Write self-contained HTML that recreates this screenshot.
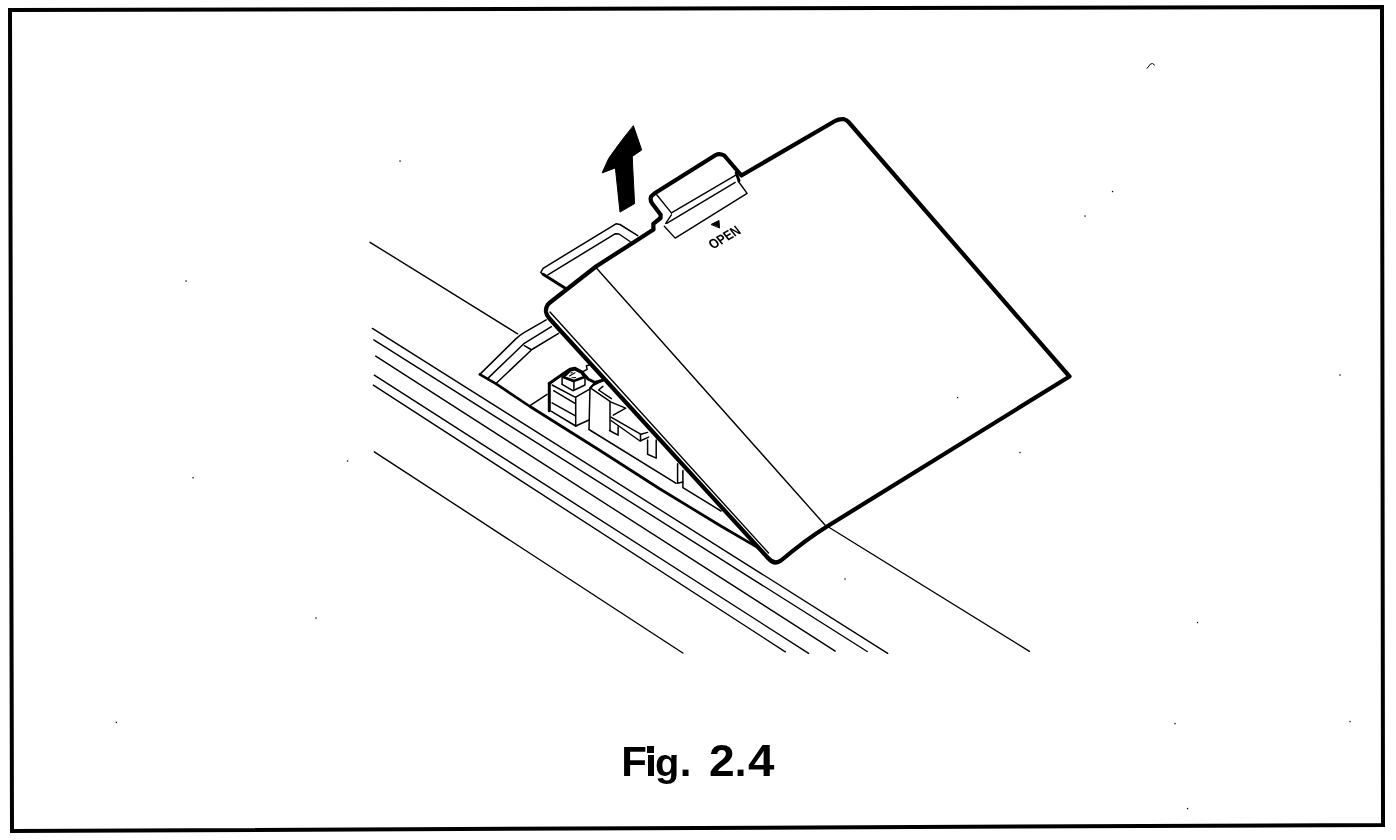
<!DOCTYPE html>
<html>
<head>
<meta charset="utf-8">
<style>
html,body{margin:0;padding:0;background:#fff;}
body{width:1396px;height:840px;overflow:hidden;position:relative;}
svg{position:absolute;left:0;top:0;}
.fig{position:absolute;left:0;top:0;filter:grayscale(1);font-family:"Liberation Sans",sans-serif;font-weight:bold;font-size:42px;line-height:42px;color:#000;white-space:pre;}
</style>
</head>
<body>
<svg width="1396" height="840" viewBox="0 0 1396 840" fill="none" stroke="#000" stroke-linejoin="round" stroke-linecap="round">
<!-- frame -->
<polygon points="10,10 1382,7 1383,825 12,831" stroke-width="4" stroke-linejoin="miter"/>

<!-- long body lines -->
<g stroke-width="1.4">
<line x1="370" y1="242.3" x2="517.6" y2="333.8"/>
<line x1="826" y1="525.5" x2="1029.4" y2="651.3"/>
<line x1="372.4" y1="328.4" x2="887.7" y2="653.3"/>
<line x1="373.8" y1="339.8" x2="867.2" y2="651.5"/>
<line x1="375.7" y1="356.2" x2="835.2" y2="651.1"/>
<line x1="374.3" y1="375.2" x2="808.6" y2="653.3"/>
<line x1="373.3" y1="385.2" x2="785.3" y2="651.8"/>
<line x1="374.3" y1="451.8" x2="682.8" y2="653"/>
</g>

<!-- recess -->
<g stroke-width="1.5">
<path d="M546.2,319.9 L524,332.6 Q520,335 515.8,338.9 L479.8,374.4"/>
<polyline points="551.4,326.7 524.3,343.3 487.6,378.6"/>
<polyline points="558.6,333.3 531.9,349.5 496.2,383.3"/>
<line x1="524.3" y1="345.7" x2="531" y2="349.5"/>
<polyline points="637.7,235.6 620,224.5 616,223.8 543.1,268.3 540.7,272.5 543.1,274.3"/>
<polyline points="630,241.5 619,234 615,233.8 547.9,274.9"/>
<line x1="530" y1="405.7" x2="547.1" y2="394.3"/>
</g>
<polyline stroke-width="3" points="543.1,274.3 565.7,288.6"/>
<polyline stroke-width="2.7" points="479.8,374.4 496.2,383.9 530,406.5 600,450.5 660,489 720,525.5 751.4,543.8 772,556"/>

<!-- mechanism inside recess -->
<g stroke-width="1.5">
<!-- switch box -->
<line x1="552.1" y1="385" x2="575" y2="397.1"/>
<line x1="553.6" y1="390.7" x2="575" y2="403.3"/>
<line x1="552.1" y1="402.9" x2="575" y2="415.7"/>
<line x1="551.4" y1="411.4" x2="575.7" y2="426"/>
<line x1="575.7" y1="397.1" x2="575.7" y2="426"/>
<polyline points="575.7,397.1 589.3,389.3 591.4,386.4"/>
<line x1="575.7" y1="426" x2="589" y2="420"/>
<!-- cap -->
<line x1="562.1" y1="377.1" x2="562.1" y2="384.3"/>
<polyline points="562.1,384.3 572.9,390.7 585,385 585,377.1"/>
<polyline points="562.9,377.1 573.6,381.4 584.3,376.4"/>
<line x1="573.9" y1="381.4" x2="573.9" y2="390"/>
<polyline points="589.3,365 586.4,365.7 587.1,369.3 582.1,372.1"/>
<!-- panel -->
<line x1="590" y1="387.9" x2="589" y2="429.5"/>
<line x1="591.4" y1="386.4" x2="602.9" y2="380.7"/>
<line x1="591.4" y1="388.6" x2="610" y2="401.4"/>
<polyline points="602.9,386.4 598.6,390 611.4,398.6"/>
<line x1="610" y1="402" x2="610" y2="430.5"/>
<polyline points="610.5,401.9 625.7,408.1 613.3,415.2"/>
<polyline points="609.5,430.5 618.1,435.2 618.1,426.7"/>
<polyline points="611,417.1 641,434.3 647.6,432.4"/>
<polyline points="611,420.5 640,441 648.6,437.1"/>
<line x1="640.5" y1="434.3" x2="640.5" y2="441"/>
<polyline points="647.6,440 647.6,454.3 656.2,458.1 656.2,440"/>
<polyline points="589,429.5 676.2,483.3"/>
<polyline points="677.6,463.8 677.6,483.3 682.9,482 "/>
<polyline points="682.9,470.5 682.9,487.6 721,511"/>
</g>
<g stroke-width="3">
<line x1="549.3" y1="383.6" x2="549.3" y2="410.7"/>
<polyline points="549.3,383.6 563.6,373.6 570,369.3 575,368.2 582.1,372.1 588,379 595,382.5 602.5,380.3"/>
<line x1="595" y1="382.5" x2="590.5" y2="388" stroke-width="2"/>
</g>
<polygon points="563.5,377 570,370.5 575,369.3 581.5,372.5 584.5,377 573.6,381" fill="#fff" stroke="#000" stroke-width="2.6"/>
<g stroke-width="1.1"><line x1="569.5" y1="376" x2="575" y2="372.8"/><line x1="572" y1="377.8" x2="575.5" y2="377.5"/><line x1="571" y1="373" x2="572.2" y2="372.6"/></g>
<!-- lid fill to hide -->
<path stroke-width="4.2" fill="#fff" d="M546,312 Q545.5,306 550,302.5 L596,266.5 L634.6,241.7 L653.5,229.5 L653.3,223.8 L660.5,218 L660.7,214.7 L652,203.3 Q649.5,199 651.5,196 L654.7,193.3 L715.7,155 Q719.5,153 724.3,155.5 L741.4,175.5 L835,121 Q839,118.7 844,119.2 Q846.5,119.8 848.5,122 L1069.5,376.5 L826.2,527 Q806.2,539.4 781,560.5 Q774.5,565.4 768,558 L559.8,330 L549,318 Q546.5,315 546,312 Z"/>
<g stroke-width="1.4">
<line x1="595.5" y1="267" x2="825" y2="525"/>
<line x1="550" y1="312" x2="768.5" y2="553"/>
<!-- tab details -->
<line x1="656.7" y1="194.8" x2="671.4" y2="212.9"/>
<line x1="671.4" y1="212.9" x2="736.2" y2="174.8"/>
<line x1="666.7" y1="223.3" x2="735.2" y2="182.4"/>
<line x1="671.4" y1="214.8" x2="665.7" y2="223.3"/>
<polyline points="664.3,226.2 675.2,238.1 747.1,193.3 738.1,181"/>
</g>
<line x1="736.2" y1="172.9" x2="739" y2="180.5" stroke-width="3"/>
<polygon points="711.4,224.3 719,220.5 719.5,227.6" fill="#000" stroke-width="1"/>
<!-- arrow -->
<path fill="#000" stroke-width="1" d="M633.5,126 L641.7,150 L632.3,156.4 L632.6,165 L634.6,203.6 L620,212.1 L615.4,167.9 L602.1,172.9 L608.6,158.6 L615.7,148.6 L624.3,137.1 Z"/>
<!-- OPEN text -->
<text x="0" y="0" transform="translate(713,249.5) rotate(-30) skewX(8) scale(0.84,1)" font-family="Liberation Sans, sans-serif" font-weight="bold" font-size="14" fill="#000" stroke="none" style="filter:grayscale(1)">OPEN</text>
<g fill="#000" stroke="none"><rect x="399.4" y="160.4" width="1.3" height="1.3"/><rect x="185.4" y="280.4" width="1.3" height="1.3"/><rect x="192.4" y="477.1" width="1.3" height="1.3"/><rect x="346.9" y="460.4" width="1.3" height="1.3"/><rect x="315.4" y="617.4" width="1.3" height="1.3"/><rect x="115.7" y="721.8" width="1.3" height="1.3"/><rect x="1019.4" y="451.9" width="1.3" height="1.3"/><rect x="844.4" y="578.4" width="1.3" height="1.3"/><rect x="1196.9" y="621.9" width="1.3" height="1.3"/><rect x="1174.4" y="722.9" width="1.3" height="1.3"/><rect x="1349.4" y="720.9" width="1.3" height="1.3"/><rect x="1186.9" y="807.9" width="1.3" height="1.3"/><rect x="1111.9" y="190.9" width="1.3" height="1.3"/><rect x="1084.4" y="215.4" width="1.3" height="1.3"/><rect x="956.9" y="396.9" width="1.3" height="1.3"/><rect x="1339.4" y="374.4" width="1.3" height="1.3"/></g>
<path d="M1147,68.5 L1150.5,64 L1152.5,63.5 L1154.5,65" stroke-width="1"/>
</svg>
<div class="fig" style="left:621.2px;top:740.5px;">F</div>
<div style="position:absolute;left:647.3px;top:746px;width:6.5px;height:6.6px;background:#000;"></div>
<div style="position:absolute;left:647.8px;top:755px;width:6px;height:20.8px;background:#000;"></div>
<div class="fig" style="left:655.1px;top:740.5px;transform:scale(0.95,0.92);transform-origin:2px 35.5px;">g</div>
<div class="fig" style="left:679.8px;top:740.5px;">.</div>
<div class="fig" style="left:708.6px;top:740.5px;transform:scale(1.1,1.06);transform-origin:0 35.5px;">2</div>
<div class="fig" style="left:734.8px;top:740.5px;">.</div>
<div class="fig" style="left:747.8px;top:740.5px;transform:scale(1.13,1.06);transform-origin:0 35.5px;">4</div>
</body>
</html>
